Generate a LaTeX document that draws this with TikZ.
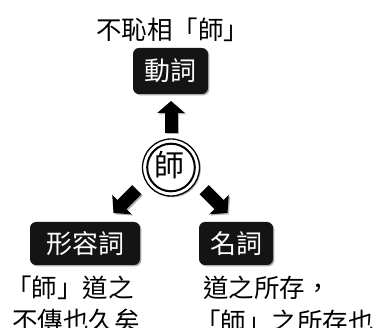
\documentclass[tikz,border=0pt]{standalone}
\usepackage{fontspec}
\setmainfont{Noto Sans CJK TC}
\usetikzlibrary{arrows.meta,shadows}
\begin{document}
\begin{tikzpicture}[x=1pt,y=-1pt,
  softshadow/.style={drop shadow={shadow xshift=1.3pt, shadow yshift=-1.3pt, fill=black!70, opacity=0.45}},
  wordbox/.style={fill=black!92, text=white, rounded corners=6pt, inner sep=0pt,
    font=\fontsize{26}{26}\selectfont, softshadow},
  caption/.style={anchor=base west, inner sep=0pt, font=\fontsize{25.5}{31}\selectfont},
  fatarrow/.style={line width=13pt, -{Triangle[width=27pt,length=12pt]}},
  fatshadow/.style={fatarrow, draw=black!30, transform canvas={shift={(1.3pt,-1.3pt)}}}
]
\useasboundingbox (0,0) rectangle (385,328);

% boxes
\node[wordbox, minimum width=75pt, minimum height=46pt] (verb) at (170.5,71) {動詞};
\node[wordbox, minimum width=110pt, minimum height=43pt] (adj) at (85,243.5) {形容詞};
\node[wordbox, minimum width=74pt, minimum height=43pt] (noun) at (236,243.5) {名詞};

% central circle
\node[circle, draw, line width=1.3pt, fill=white, minimum size=57pt, inner sep=0pt, softshadow] (shi) at (171,167.5) {};
\draw[line width=2pt] (shi.center) circle[radius=23.8];
\node[font=\fontsize{30}{30}\selectfont, inner sep=0pt] (shilabel) at (169,165) {師};

% arrows
\coordinate (upS) at (171,133);
\coordinate (upT) at (171,101);
\coordinate (lS) at (136.8,189.7);
\coordinate (lT) at (113.5,213);
\coordinate (rS) at (204.2,189.7);
\coordinate (rT) at (227.5,213);
\draw[fatshadow] (upS) -- (upT);
\draw[fatshadow] (lS) -- (lT);
\draw[fatshadow] (rS) -- (rT);
\draw[fatarrow] (upS) -- (upT);
\draw[fatarrow] (lS) -- (lT);
\draw[fatarrow] (rS) -- (rT);

% captions
\node[caption] (t0) at (96,40) {不恥相「師」};
\node[caption] (a1) at (6,298) {「師」道之};
\node[caption] (a2) at (12,330) {不傳也久矣};
\node[caption] (n1) at (203,298) {道之所存，};
\node[caption] (n2) at (195,331) {「師」之所存也};
\end{tikzpicture}
\end{document}
